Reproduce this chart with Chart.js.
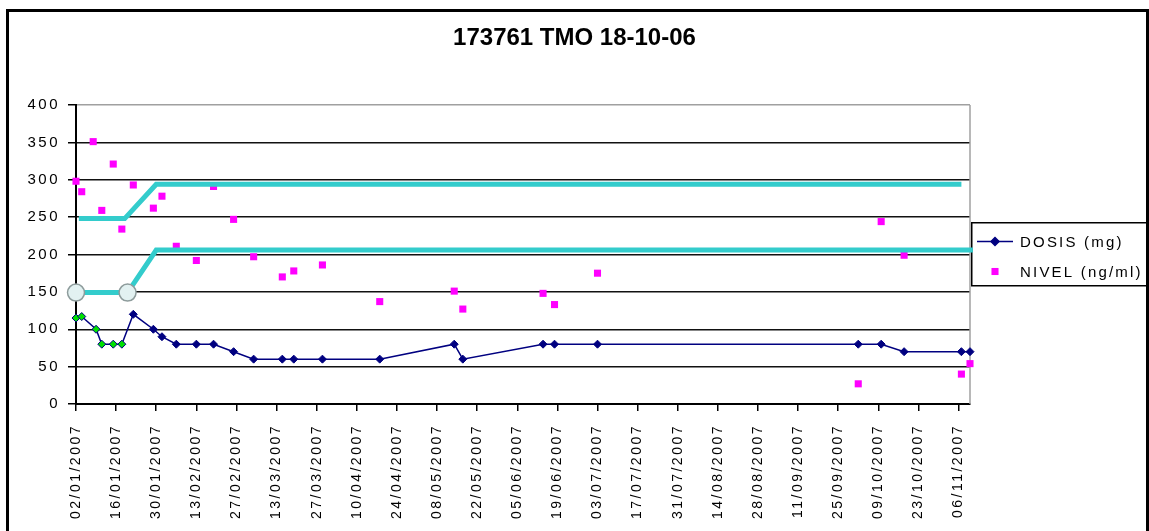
<!DOCTYPE html>
<html>
<head>
<meta charset="utf-8">
<title>173761 TMO 18-10-06</title>
<script src="https://cdn.jsdelivr.net/npm/chart.js@4/dist/chart.umd.min.js"></script>
<style>
  html, body { margin: 0; padding: 0; background: #fff; overflow: hidden; }
  #grafico { display: block; }
</style>
</head>
<body>
<canvas id="grafico" width="1149" height="531"></canvas>
<script>
const titulo = "173761 TMO 18-10-06";

// dosis administrada (mg)
const fechasDosis = ["02/01/2007", "04/01/2007", "09/01/2007", "11/01/2007", "15/01/2007", "18/01/2007",
  "22/01/2007", "29/01/2007", "01/02/2007", "06/02/2007", "13/02/2007", "19/02/2007", "26/02/2007",
  "05/03/2007", "15/03/2007", "19/03/2007", "29/03/2007", "18/04/2007", "14/05/2007", "17/05/2007",
  "14/06/2007", "18/06/2007", "03/07/2007", "02/10/2007", "10/10/2007", "18/10/2007", "07/11/2007",
  "10/11/2007"];
const dosis = [115, 117, 100, 80, 80, 80, 120, 100, 90, 80, 80, 80, 70, 60, 60, 60, 60, 60, 80, 60,
  80, 80, 80, 80, 80, 70, 70, 70];

// niveles en sangre (ng/ml)
const fechasNivel = ["02/01/2007", "04/01/2007", "08/01/2007", "11/01/2007", "15/01/2007", "18/01/2007",
  "22/01/2007", "29/01/2007", "01/02/2007", "06/02/2007", "13/02/2007", "19/02/2007", "26/02/2007",
  "05/03/2007", "15/03/2007", "19/03/2007", "29/03/2007", "18/04/2007", "14/05/2007", "17/05/2007",
  "14/06/2007", "18/06/2007", "03/07/2007", "02/10/2007", "10/10/2007", "18/10/2007", "07/11/2007",
  "10/11/2007"];
const nivel = [298, 284, 351, 259, 321, 234, 293, 262, 278, 211, 192, 291, 247, 197, 170, 178, 186,
  137, 151, 127, 148, 133, 175, 27, 244, 199, 40, 54];

// rango terapeutico, limite superior e inferior
const fechasRangoSup = ["03/01/2007", "19/01/2007", "30/01/2007", "07/11/2007"];
const rangoSup = [248, 248, 294, 294];
const fechasRangoInf = ["02/01/2007", "20/01/2007", "30/01/2007", "11/11/2007"];
const rangoInf = [149, 149, 206, 206];

// eje x: marcas cada 14 dias
const etiquetasX = ["02/01/2007", "16/01/2007", "30/01/2007", "13/02/2007", "27/02/2007", "13/03/2007",
  "27/03/2007", "10/04/2007", "24/04/2007", "08/05/2007", "22/05/2007", "05/06/2007", "19/06/2007",
  "03/07/2007", "17/07/2007", "31/07/2007", "14/08/2007", "28/08/2007", "11/09/2007", "25/09/2007",
  "09/10/2007", "23/10/2007", "06/11/2007"];
const fechaInicio = "02/01/2007";
const fechaFin = "10/11/2007";

// eje y
const yMin = 0;
const yMax = 400;
const yPaso = 50;

const fuente = "'Liberation Sans', Arial, sans-serif";
const puntosVerdes = 6;

function dia(fecha) {
  const [d, m, a] = fecha.split("/").map(Number);
  const [d0, m0, a0] = fechaInicio.split("/").map(Number);
  return Math.round((Date.UTC(a, m - 1, d) - Date.UTC(a0, m0 - 1, d0)) / 86400000);
}

function puntos(fechas, valores) {
  return fechas.map((f, i) => ({ x: dia(f), y: valores[i] }));
}

// marco exterior, borde gris del area y espaciado de letras
// (el titulo va sin espaciado; las etiquetas de los ejes se dibujan despues de las series)
const marco = {
  id: "marco",
  beforeDraw(chart) {
    chart.ctx.letterSpacing = "0px";
  },
  beforeDatasetsDraw(chart) {
    const { ctx, chartArea: a } = chart;
    ctx.save();
    ctx.strokeStyle = "#a0a0a0";
    ctx.lineWidth = 1.5;
    ctx.beginPath();
    ctx.moveTo(a.right, a.top);
    ctx.lineTo(a.right, a.bottom);
    ctx.stroke();
    ctx.restore();
  },
  afterDatasetsDraw(chart) {
    chart.ctx.letterSpacing = "2.5px";
  },
  afterDraw(chart) {
    const ctx = chart.ctx;
    ctx.save();
    ctx.strokeStyle = "#000";
    ctx.lineWidth = 3;
    ctx.strokeRect(7.5, 10.5, 1140, 600);
    ctx.restore();
  }
};

// leyenda con recuadro a la derecha del grafico
const leyenda = {
  id: "leyenda",
  beforeDatasetsDraw(chart) {
    const ctx = chart.ctx;
    const x0 = chart.chartArea.right + 1;
    const y0 = 222;
    ctx.save();
    ctx.fillStyle = "#fff";
    ctx.fillRect(x0, y0, 176, 63);
    ctx.strokeStyle = "#000";
    ctx.lineWidth = 1.5;
    ctx.strokeRect(x0 + 0.75, y0 + 0.75, 176, 63);
    const items = chart.data.datasets.filter(ds => ds.posLeyenda !== undefined)
      .sort((a, b) => a.posLeyenda - b.posLeyenda);
    items.forEach((ds, i) => {
      const cy = y0 + 19.5 + i * 30;
      const cx = x0 + 24;
      if (ds.showLine !== false) {
        ctx.strokeStyle = ds.borderColor;
        ctx.lineWidth = ds.borderWidth;
        ctx.beginPath();
        ctx.moveTo(cx - 18, cy);
        ctx.lineTo(cx + 18, cy);
        ctx.stroke();
      }
      ctx.fillStyle = ds.colorLeyenda;
      ctx.strokeStyle = ds.pointBorderColor || ds.colorLeyenda;
      Chart.helpers.drawPoint(ctx, {
        pointStyle: ds.pointStyle, radius: ds.pointRadius, rotation: 0, borderWidth: ds.pointBorderWidth
      }, cx, cy);
      ctx.fillStyle = "#000";
      ctx.font = "15px " + fuente;
      ctx.letterSpacing = "2.2px";
      ctx.textBaseline = "middle";
      ctx.textAlign = "left";
      ctx.fillText(ds.label, x0 + 49, cy + 1);
    });
    ctx.restore();
  }
};

new Chart(document.getElementById("grafico"), {
  type: "line",
  data: {
    datasets: [
      {
        label: "rango superior",
        data: puntos(fechasRangoSup, rangoSup),
        borderColor: "#33cccc",
        borderWidth: 5,
        pointRadius: 0,
        clip: false,
        order: 0
      },
      {
        label: "rango inferior",
        data: puntos(fechasRangoInf, rangoInf),
        borderColor: "#33cccc",
        borderWidth: 5,
        pointStyle: "circle",
        pointRadius: [8.5, 8.5, 0, 0],
        pointBackgroundColor: "#e2f1f1",
        pointBorderColor: "#8e9c9c",
        pointBorderWidth: 1.5,
        clip: false,
        order: 0
      },
      {
        label: "NIVEL (ng/ml)",
        data: puntos(fechasNivel, nivel),
        showLine: false,
        pointStyle: "rect",
        pointRadius: 5,
        pointBackgroundColor: "#ff00ff",
        pointBorderWidth: 0,
        colorLeyenda: "#ff00ff",
        posLeyenda: 2,
        clip: false,
        order: 1
      },
      {
        label: "DOSIS (mg)",
        data: puntos(fechasDosis, dosis),
        borderColor: "#000080",
        borderWidth: 1.5,
        pointStyle: "rectRot",
        pointRadius: 4,
        pointBackgroundColor: fechasDosis.map((f, i) => i < puntosVerdes ? "#00e000" : "#000080"),
        pointBorderColor: "#000080",
        pointBorderWidth: 1,
        colorLeyenda: "#000080",
        posLeyenda: 1,
        clip: false,
        order: 2
      }
    ]
  },
  options: {
    responsive: false,
    devicePixelRatio: 1,
    animation: false,
    events: [],
    layout: { padding: 0 },
    plugins: {
      legend: { display: false },
      tooltip: { enabled: false },
      title: {
        display: true,
        text: titulo,
        color: "#000",
        font: { family: fuente, size: 24, weight: "bold" },
        padding: { top: 23.6, bottom: 52.6 }
      }
    },
    scales: {
      x: {
        type: "linear",
        min: dia(fechaInicio),
        max: dia(fechaFin),
        afterBuildTicks: s => { s.ticks = etiquetasX.map(f => ({ value: dia(f) })); },
        afterFit: s => { s.height = 127; },
        grid: { drawOnChartArea: false, drawTicks: true, tickLength: 7, tickColor: "#000", lineWidth: 1.5 },
        border: { color: "#000", width: 2 },
        ticks: {
          z: 1,
          autoSkip: false,
          minRotation: 90,
          maxRotation: 90,
          padding: 13,
          color: "#000",
          font: { family: fuente, size: 14 },
          callback: (v, i) => etiquetasX[i]
        }
      },
      y: {
        min: yMin,
        max: yMax,
        afterFit: s => { s.width = 76; },
        grid: {
          color: c => c.tick && c.tick.value === yMax ? "#a0a0a0" : "#111",
          lineWidth: 1.5,
          tickLength: 8,
          tickColor: "#000"
        },
        border: { color: "#000", width: 2 },
        ticks: {
          z: 1,
          stepSize: yPaso,
          padding: 8,
          color: "#000",
          font: { family: fuente, size: 15 }
        }
      },
      // franja derecha reservada para la leyenda
      margenLeyenda: {
        type: "linear",
        position: "right",
        display: true,
        afterFit: s => { s.width = 179; },
        grid: { display: false },
        border: { display: false },
        ticks: { display: false }
      }
    }
  },
  plugins: [marco, leyenda]
});
</script>
</body>
</html>
